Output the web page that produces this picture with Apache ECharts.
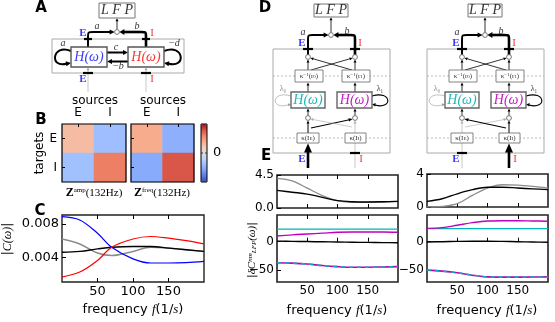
<!DOCTYPE html>
<html>
<head>
<meta charset="utf-8">
<script src="https://cdn.jsdelivr.net/npm/echarts@6/dist/echarts.min.js"></script>
<style>
  html, body { margin: 0; padding: 0; background: #fff; }
  #fig { width: 555px; height: 322px; }
</style>
</head>
<body>
<div id="fig"></div>
<script>
// ---- data ----
var freqC = [0, 25, 50, 70, 100, 125, 150, 175, 200]
var cBlue = [0.0089, 0.0085, 0.0069, 0.0052, 0.0038, 0.0033, 0.0033, 0.00335, 0.0035]
var cRed = [0.0016, 0.0022, 0.0036, 0.0052, 0.0062, 0.0065, 0.0063, 0.0060, 0.0056]
var cGray = [0.0062, 0.0056, 0.0045, 0.0042, 0.0047, 0.0052, 0.0051, 0.0049, 0.0047]
var cBlack = [0.0046, 0.0047, 0.0050, 0.0052, 0.0053, 0.0053, 0.0051, 0.0049, 0.0047]
var cTicksX = [50, 100, 150]
var cTicksY = [0.004, 0.008]

var freqE = [0, 25, 50, 75, 100, 125, 150, 175, 200]
// left column (E driven)
var eTLgray = [4.05, 3.7, 2.7, 1.7, 1.0, 0.78, 0.77, 0.82, 0.9]
var eTLblack = [2.4, 2.15, 1.9, 1.45, 1.0, 0.85, 0.82, 0.85, 0.9]
var eBLcyan = [22, 22, 22, 22, 22, 22, 22, 22, 22]
var eBLmag = [10, 12, 13.5, 15, 16.5, 17, 17, 17, 16.5]
var eBLblack = [1, 0.6, 0.2, -0.2, -0.6, -1, -1.3, -1.6, -1.8]
var eBLdash = [-37, -37.8, -39.4, -42, -44, -45, -45, -44.5, -44]
// right column (I driven)
var eTRblack = [0.68, 1.0, 1.6, 2.1, 2.4, 2.4, 2.3, 2.2, 2.1]
var eTRgray = [0.0, 0.08, 0.4, 1.4, 2.3, 2.7, 2.65, 2.5, 2.3]
var eBRcyan = [23, 23, 23, 23, 23, 23, 23, 23, 23]
var eBRmag = [23.5, 24.7, 29, 33.5, 36.5, 37, 37, 36.5, 36]
var eBRblack = [-0.5, 0, 0.5, 0.8, 0.8, 0.5, 0, -0.5, -1]
var eBRdash = [-50, -51.8, -54.7, -59, -62, -62.4, -62.4, -62.2, -62]
var eTicksX = [50, 100, 150]

// heatmaps: rows = targets (E, I), columns = sources (E, I)
var popLabels = ['E', 'I']
var zAmp = [[0.30, -0.40], [-0.38, 0.62]]
var zFreq = [[0.40, -0.50], [-0.52, 0.78]]
var coolwarm = ['#3b4cc0', '#5977e3', '#7b9ff9', '#9ebeff', '#c0d4f5', '#dddcdc',
  '#f2cbb7', '#f7ac8e', '#ee8468', '#d65244', '#b40426']

var SANS = '"DejaVu Sans"'
var SERIF = '"Liberation Serif"'
var PI = Math.PI

// ---- drawing helpers for the schematics ----
var G = []
function pl (pts, c, w, dash) {
  var st = {stroke: c || '#000', lineWidth: w || 1, fill: null}
  if (dash) st.lineDash = dash
  G.push({type: 'polyline', z: 10, silent: true, shape: {points: pts}, style: st})
}
function bz (x1, y1, c1x, c1y, c2x, c2y, x2, y2, c, w) {
  G.push({type: 'bezierCurve', z: 10, silent: true,
    shape: {x1: x1, y1: y1, cpx1: c1x, cpy1: c1y, cpx2: c2x, cpy2: c2y, x2: x2, y2: y2},
    style: {stroke: c, lineWidth: w, fill: null}})
}
function head (x, y, a, len, wid, c) {
  var bx = x - Math.cos(a) * len, by = y - Math.sin(a) * len
  var px = -Math.sin(a) * wid / 2, py = Math.cos(a) * wid / 2
  G.push({type: 'polygon', z: 10, silent: true,
    shape: {points: [[x, y], [bx + px, by + py], [bx - px, by - py]]},
    style: {fill: c || '#000'}})
}
function arrow (x1, y1, x2, y2, c, w, hl, hw) {
  var a = Math.atan2(y2 - y1, x2 - x1)
  pl([[x1, y1], [x2 - Math.cos(a) * hl * 0.8, y2 - Math.sin(a) * hl * 0.8]], c, w)
  head(x2, y2, a, hl, hw, c)
}
function box (x, y, w, h, c, lw, fill) {
  G.push({type: 'rect', z: 10, silent: true, shape: {x: x, y: y, width: w, height: h},
    style: {stroke: c, lineWidth: lw, fill: fill || '#fff'}})
}
function node (x, y) {
  G.push({type: 'circle', z: 10, silent: true, shape: {cx: x, cy: y, r: 2.4},
    style: {stroke: '#555', lineWidth: 0.8, fill: '#fff'}})
}
function tx (x, y, text, font, color, opt) {
  opt = opt || {}
  var al = opt.align || 'center'
  G.push({type: 'text', z: 11, silent: true, x: x, y: y, rotation: opt.rot || 0,
    style: {text: text, font: font, fill: color || '#000', rich: opt.rich,
      align: al, textAlign: al, verticalAlign: 'middle', textVerticalAlign: 'middle'}})
}
function rs (size, color, italic, family, extra) {
  var o = {fontSize: size, fontFamily: family || SERIF, fontStyle: italic ? 'italic' : 'normal',
    color: color || '#000', fill: color || '#000'}
  for (var k in extra) o[k] = extra[k]
  return o
}

var BLUE = '#3a3aff', RED = '#ff3535', CYAN = '#1fb8b8', MAG = '#c020c0'

// ---- panel A ----
box(52, 39, 132, 34, '#aaa', 1, 'none')
pl([[88, 73], [88, 92]], '#c8c8c8', 1)
pl([[146, 73], [146, 92]], '#c8c8c8', 1)
arrow(88, 73, 88, 67.5, '#999', 0.7, 2.5, 2.5)
arrow(146, 73, 146, 67.5, '#999', 0.7, 2.5, 2.5)
pl([[88, 47], [88, 37]], '#000', 2)
bz(88, 37, 88, 32, 88, 32, 93, 32, '#000', 2)
arrow(93, 32, 114.6, 32, '#000', 2, 5, 5)
pl([[146, 47], [146, 37]], '#000', 2.6)
bz(146, 37, 146, 32, 146, 32, 141, 32, '#000', 2.6)
arrow(141, 32, 119.4, 32, '#000', 2.6, 5, 6)
arrow(107, 52.5, 128, 52.5, '#000', 2, 5, 5)
arrow(128, 61.5, 107, 61.5, '#000', 2, 5, 5)
bz(71, 51, 52, 43, 49, 69, 67, 63.5, '#000', 2)
head(71, 63, -0.15, 5, 5, '#000')
bz(164, 51, 184, 43, 187, 69, 168, 63.5, '#000', 2)
head(164, 63, PI + 0.15, 5, 5, '#000')
pl([[84, 39], [92, 39]], '#000', 2.2)
pl([[142, 39], [150, 39]], '#000', 2.2)
pl([[83, 73], [93, 73]], '#000', 2.2)
pl([[141, 73], [151, 73]], '#000', 2.2)
box(71, 47, 36, 20, '#555', 1.4)
box(128, 47, 36, 20, '#555', 1.4)
box(99, 3, 36, 15, '#777', 1)
arrow(117, 29.6, 117, 18.3, '#000', 0.8, 3, 3)
node(117, 32)
tx(117, 10.5, 'L F P', 'italic 14px ' + SERIF, '#333')
tx(89, 57, 'H(ω)', 'italic 14px ' + SERIF, BLUE)
tx(146, 57, 'H(ω)', 'italic 14px ' + SERIF, RED)
tx(83, 33, 'E', 'bold 11px ' + SERIF, BLUE)
tx(152, 33, 'I', '11px ' + SERIF, RED)
tx(83, 79, 'E', 'bold 11px ' + SERIF, BLUE)
tx(152, 79, 'I', '11px ' + SERIF, RED)
tx(97, 26, 'a', 'italic 10px ' + SERIF, '#333')
tx(137, 26, 'b', 'italic 10px ' + SERIF, '#333')
tx(63, 43, 'a', 'italic 10px ' + SERIF, '#333')
tx(116, 47.5, 'c', 'italic 10px ' + SERIF, '#333')
tx(118, 66.5, '−b', 'italic 10px ' + SERIF, '#333')
tx(174, 43, '−d', 'italic 10px ' + SERIF, '#333')

// ---- panel D (two schematics, E driven and I driven) ----
function drawD (ox, eStrong) {
  function X (v) { return v + ox }
  var L = 308, R = 355
  box(X(273), 49, 117, 104, '#aaa', 1, 'none')
  pl([[X(273), 76], [X(390), 76]], '#aaa', 0.8, [2, 2])
  pl([[X(273), 138], [X(390), 138]], '#aaa', 0.8, [2, 2])
  // outputs to LFP
  pl([[X(L), 57], [X(L), 40]], '#000', 2)
  bz(X(L), 40, X(L), 35, X(L), 35, X(L + 5), 35, '#000', 2)
  arrow(X(L + 5), 35, X(328.6), 35, '#000', 2, 5, 5)
  pl([[X(R), 57], [X(R), 40]], '#000', 2.6)
  bz(X(R), 40, X(R), 35, X(R), 35, X(R - 5), 35, '#000', 2.6)
  arrow(X(R - 5), 35, X(333.4), 35, '#000', 2.6, 5, 6)
  pl([[X(L - 5), 49], [X(L + 5), 49]], '#000', 2.2)
  pl([[X(R - 5), 49], [X(R + 5), 49]], '#000', 2.2)
  arrow(X(331), 32.6, X(331), 17.3, '#000', 0.8, 3, 3)
  // upper crossings
  arrow(X(L), 70, X(L), 59.6, '#000', 0.8, 3, 3)
  arrow(X(R), 70, X(R), 59.6, '#000', 0.8, 3, 3)
  arrow(X(311), 70, X(352.6), 58, '#000', 0.8, 3, 3)
  arrow(X(352), 70, X(310.4), 58, '#000', 0.8, 3, 3)
  arrow(X(L), 92, X(L), 82.4, '#000', 0.8, 3, 3)
  arrow(X(R), 92, X(R), 82.4, '#000', 0.8, 3, 3)
  // self couplings
  bz(X(291), 96, X(271), 90, X(270), 110, X(288), 105, '#b0b0b0', 0.8)
  head(X(291), 104.5, -0.1, 3, 3, '#999')
  bz(X(372), 96, X(392), 90, X(393), 110, X(375), 105, '#000', 1.1)
  head(X(372), 104.5, PI + 0.1, 3.5, 3.5, '#000')
  // lower crossings
  arrow(X(L), 115.6, X(L), 108.4, '#000', 0.8, 3, 3)
  arrow(X(R), 115.6, X(R), 108.4, '#000', 0.8, 3, 3)
  arrow(X(L), 133, X(L), 120.6, eStrong ? '#000' : '#aaa', eStrong ? 1 : 0.6, 3, 3)
  arrow(X(R), 133, X(R), 120.6, eStrong ? '#aaa' : '#000', eStrong ? 0.6 : 1, 3, 3)
  if (eStrong) {
    arrow(X(311), 128, X(352.6), 119, '#000', 1.1, 4, 3.5)
    arrow(X(352), 127, X(310.4), 119, '#aaa', 0.6, 3, 3)
  } else {
    arrow(X(311), 127, X(352.6), 119, '#aaa', 0.6, 3, 3)
    arrow(X(352), 128, X(310.4), 119, '#000', 1.1, 4, 3.5)
  }
  // inputs
  var sx = eStrong ? L : R, wx = eStrong ? R : L
  arrow(X(sx), 168, X(sx), 143.5, '#000', 2.6, 9, 8)
  pl([[X(wx), 143], [X(wx), 168]], '#c8c8c8', 1)
  pl([[X(wx - 5), 153], [X(wx + 5), 153]], '#000', 2.2)
  tx(X(302), 159, 'E', 'bold 11px ' + SERIF, BLUE)
  tx(X(361), 159, 'I', '11px ' + SERIF, RED)
  // boxes
  box(X(295), 70, 28, 12, '#666', 0.8)
  box(X(342), 70, 28, 12, '#666', 0.8)
  box(X(291), 92, 34, 16, '#666', 1.4)
  box(X(337), 92, 35, 16, '#666', 1.4)
  box(X(297), 133, 22, 10, '#666', 0.8)
  box(X(345), 133, 21, 10, '#666', 0.8)
  box(X(314), 4, 34, 13, '#777', 1)
  node(X(331), 35); node(X(L), 57); node(X(R), 57); node(X(L), 118); node(X(R), 118)
  tx(X(331), 10.5, 'L F P', 'italic 14px ' + SERIF, '#333')
  tx(X(308), 100, 'H(ω)', 'italic 14px ' + SERIF, CYAN)
  tx(X(354.5), 100, 'H(ω)', 'italic 14px ' + SERIF, MAG)
  var kr = {a: rs(7, '#333'), s: rs(5, '#333', false, SERIF, {verticalAlign: 'top'}), b: rs(5, '#333', false, SERIF, {verticalAlign: 'bottom'})}
  tx(X(309), 76, '{a|κ}{s|−1}{a|(r}{b|0}{a|)}', '7px ' + SERIF, '#333', {rich: kr})
  tx(X(356), 76, '{a|κ}{s|−1}{a|(r}{b|1}{a|)}', '7px ' + SERIF, '#333', {rich: kr})
  tx(X(308), 138, '{a|κ(I}{b|E}{a|)}', '7px ' + SERIF, '#333', {rich: kr})
  tx(X(355.5), 138, '{a|κ(I}{b|I}{a|)}', '7px ' + SERIF, '#333', {rich: kr})
  tx(X(303), 32, 'a', 'italic 10px ' + SERIF, '#333')
  tx(X(347), 31, 'b', 'italic 10px ' + SERIF, '#333')
  tx(X(302), 43, 'E', 'bold 11px ' + SERIF, BLUE)
  tx(X(360), 43, 'I', '11px ' + SERIF, RED)
  tx(X(283), 89, 'λ₀', '8px ' + SERIF, '#888')
  tx(X(380), 89, 'λ₁', '8px ' + SERIF, '#333')
}
drawD(0, true)
drawD(154, false)

// ---- panel B extras ----
box(62, 124, 64, 58, '#000', 1.2, 'none')
box(131, 124, 63, 58, '#000', 1.2, 'none')
box(201, 124, 6, 58, '#000', 1, 'none')
pl([[201, 153], [203, 153]], '#333', 1)
pl([[205, 153], [207, 153]], '#333', 1)
tx(213, 153, '0', '13px ' + SANS, '#000', {align: 'left'})
tx(95, 101, 'sources', '12px ' + SANS)
tx(163, 101, 'sources', '12px ' + SANS)
tx(40, 153, 'targets', '12px ' + SANS, '#000', {rot: PI / 2})
var zr = {z: rs(12, '#000', false, SERIF, {fontWeight: 'bold'}), s: rs(7, '#000', false, SERIF, {verticalAlign: 'top'}), a: rs(11, '#000')}
tx(94, 193, '{z|Z}{s|amp}{a|(132Hz)}', '11px ' + SERIF, '#000', {rich: zr})
tx(162, 193, '{z|Z}{s|freq}{a|(132Hz)}', '11px ' + SERIF, '#000', {rich: zr})

// ---- axis titles and panel letters ----
var fr = {a: rs(13, '#000', false, SANS), i: rs(13, '#000', true, SERIF)}
tx(133, 310, '{a|frequency }{i|f}{a|(1/}{i|s}{a|)}', '13px ' + SANS, '#000', {rich: fr})
tx(337, 311, '{a|frequency }{i|f}{a|(1/}{i|s}{a|)}', '13px ' + SANS, '#000', {rich: fr})
tx(487, 311, '{a|frequency }{i|f}{a|(1/}{i|s}{a|)}', '13px ' + SANS, '#000', {rich: fr})
tx(8, 239, '{a||}{i|C(ω)}{a||}', '12px ' + SANS, '#000',
  {rot: PI / 2, rich: {a: rs(12, '#000', false, SANS), i: rs(12, '#000', true, SERIF)}})
tx(252, 250, '{a||}{i|δC}{s|nm}{b|LFP}{i|(ω)}{a||}', '11px ' + SANS, '#000',
  {rot: PI / 2, rich: {a: rs(11, '#000', false, SANS), i: rs(11, '#000', true, SERIF),
    s: rs(7, '#000', true, SERIF, {verticalAlign: 'top'}), b: rs(7, '#000', true, SERIF, {verticalAlign: 'bottom'})}})
var LET = 'bold 15px ' + SANS
tx(41, 8, 'A', LET)
tx(41, 120, 'B', LET)
tx(40, 211, 'C', LET)
tx(265, 8, 'D', LET)
tx(266, 156, 'E', LET)

// ---- chart axes ----
function pairs (xs, ys) { return xs.map(function (x, i) { return [x, ys[i]] }) }
function fmtMinus (v) { return v < 0 ? '\u2212' + (-v) : String(v) }

function xVal (gi, ticks, labels, pos, fs) {
  return {type: 'value', gridIndex: gi, min: 0, max: 200, position: pos,
    axisLine: {show: false}, splitLine: {show: false},
    axisTick: {show: true, inside: true, length: 4, customValues: ticks, lineStyle: {color: '#000', width: 1}},
    axisLabel: {show: labels, customValues: ticks, fontSize: fs, fontFamily: SANS, color: '#000', margin: 3}}
}
function yVal (gi, min, max, ticks, fmt, fs) {
  return {type: 'value', gridIndex: gi, min: min, max: max,
    axisLine: {show: false}, splitLine: {show: false},
    axisTick: {show: true, inside: true, length: 4, customValues: ticks, lineStyle: {color: '#000', width: 1}},
    axisLabel: {customValues: ticks, formatter: fmt, fontSize: fs, fontFamily: SANS, color: '#000', margin: 3}}
}
function xCat (gi) {
  return {type: 'category', gridIndex: gi, data: popLabels, position: 'top', z: 5,
    axisLine: {show: false}, splitLine: {show: false},
    axisTick: {show: true, inside: true, length: 3, alignWithLabel: true, lineStyle: {color: '#000'}},
    axisLabel: {fontSize: 12, fontFamily: SANS, color: '#000', margin: 5}}
}
function yCat (gi, labels) {
  return {type: 'category', gridIndex: gi, data: popLabels, inverse: true, z: 5,
    axisLine: {show: false}, splitLine: {show: false},
    axisTick: {show: true, inside: true, length: 3, alignWithLabel: true, lineStyle: {color: '#000'}},
    axisLabel: {show: labels, fontSize: 12, fontFamily: SANS, color: '#000', margin: 5}}
}
function grid (l, t, w, h, border) {
  return {left: l, top: t, width: w, height: h, show: true, outerBoundsMode: 'none', containLabel: false,
    borderColor: '#222', borderWidth: border, backgroundColor: 'transparent'}
}
function heatData (m) {
  var d = []
  for (var r = 0; r < m.length; r++) for (var c = 0; c < m[r].length; c++) d.push([c, r, m[r][c]])
  return d
}
function ln (xi, yi, xs, ys, color, width, dash) {
  return {type: 'line', xAxisIndex: xi, yAxisIndex: yi, data: pairs(xs, ys), smooth: 0.35,
    showSymbol: false, symbol: 'none', silent: true,
    lineStyle: {color: color, width: width, type: dash || 'solid'}, itemStyle: {color: color}}
}

var chart = echarts.init(document.getElementById('fig'), null, {renderer: 'canvas'})
var e4 = function (v) { return v.toFixed(3) }
var c1 = function (v) { return v.toFixed(1) }
chart.setOption({
  animation: false,
  backgroundColor: '#fff',
  grid: [
    grid(62, 215, 142, 67, 1.4),
    grid(62, 124, 64, 58, 0),
    grid(131, 124, 63, 58, 0),
    grid(277, 175, 121, 33, 1.6),
    grid(277, 215, 121, 67, 1.6),
    grid(427, 174, 121, 33, 1.6),
    grid(427, 215, 121, 67, 1.6)
  ],
  xAxis: [
    xVal(0, cTicksX, true, 'bottom', 13),
    xVal(0, cTicksX, false, 'top', 13),
    xCat(1),
    xCat(2),
    xVal(3, eTicksX, false, 'bottom', 12),
    xVal(4, eTicksX, true, 'bottom', 12),
    xVal(4, eTicksX, false, 'top', 12),
    xVal(5, eTicksX, false, 'bottom', 12),
    xVal(6, eTicksX, true, 'bottom', 12),
    xVal(6, eTicksX, false, 'top', 12),
    xVal(3, eTicksX, false, 'top', 12),
    xVal(5, eTicksX, false, 'top', 12)
  ],
  yAxis: [
    yVal(0, 0.001, 0.0091, cTicksY, e4, 13),
    yCat(1, true),
    yCat(2, false),
    yVal(3, 0, 4.5, [0, 4.5], c1, 12),
    yVal(4, -71, 47, [-50, 0], fmtMinus, 12),
    yVal(5, 0, 4, [0, 4], fmtMinus, 12),
    yVal(6, -71, 47, [-50, 0], fmtMinus, 12)
  ],
  visualMap: {
    type: 'continuous', min: -1, max: 1, seriesIndex: [0, 1], calculable: false,
    orient: 'vertical', left: 201, top: 124, itemWidth: 6, itemHeight: 58, padding: 0,
    inRange: {color: coolwarm}, text: null, hoverLink: false
  },
  series: [
    {type: 'heatmap', xAxisIndex: 2, yAxisIndex: 1, data: heatData(zAmp), silent: true},
    {type: 'heatmap', xAxisIndex: 3, yAxisIndex: 2, data: heatData(zFreq), silent: true},
    ln(0, 0, freqC, cGray, '#8c8c8c', 1.5),
    ln(0, 0, freqC, cBlack, '#000', 1.4),
    ln(0, 0, freqC, cBlue, '#0000ff', 1.2),
    ln(0, 0, freqC, cRed, '#ff0000', 1.2),
    ln(4, 3, freqE, eTLgray, '#8c8c8c', 1.3),
    ln(4, 3, freqE, eTLblack, '#000', 1.4),
    ln(5, 4, freqE, eBLcyan, '#00b5b5', 1.2),
    ln(5, 4, freqE, eBLmag, '#bf00bf', 1.4),
    ln(5, 4, freqE, eBLblack, '#000', 1.4),
    ln(5, 4, freqE, eBLdash, '#bf00bf', 1.6),
    ln(5, 4, freqE, eBLdash, '#00b5b5', 1.6, [4, 4]),
    ln(7, 5, freqE, eTRgray, '#8c8c8c', 1.3),
    ln(7, 5, freqE, eTRblack, '#000', 1.4),
    ln(8, 6, freqE, eBRcyan, '#00b5b5', 1.2),
    ln(8, 6, freqE, eBRmag, '#bf00bf', 1.4),
    ln(8, 6, freqE, eBRblack, '#000', 1.4),
    ln(8, 6, freqE, eBRdash, '#bf00bf', 1.6),
    ln(8, 6, freqE, eBRdash, '#00b5b5', 1.6, [4, 4])
  ],
  graphic: {elements: G}
})
</script>
</body>
</html>
